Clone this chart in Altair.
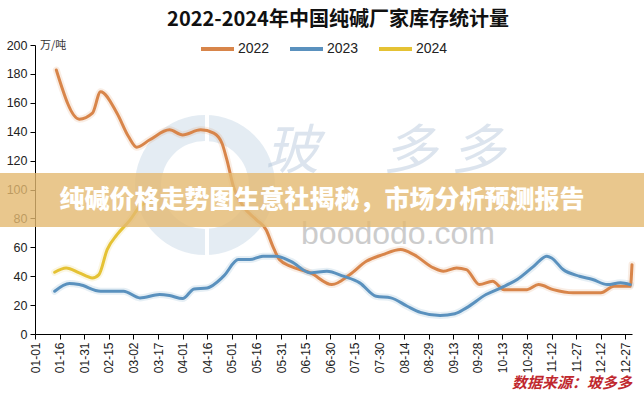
import altair as alt
import pandas as pd

TITLE = "2022-2024年中国纯碱厂家库存统计量"
UNIT = "万/吨"
BANNER = "纯碱价格走势图生意社揭秘，市场分析预测报告"
SOURCE = "数据来源：玻多多"
WATERMARK = "boododo.com"
WATERMARK_CHARS = ["玻", "多", "多"]

SERIES = ["2022", "2023", "2024"]
COLORS = ["#D8854A", "#5A91BE", "#E5C234"]

DATES_2022 = ["01-14", "01-28", "02-05", "02-10", "02-20", "02-27", "03-04", "03-12",
              "03-24", "04-01", "04-12", "04-20", "04-25", "04-28", "05-02", "05-08",
              "05-16", "05-22", "05-26", "05-30", "06-06", "06-18", "07-01", "07-12",
              "07-22", "08-01", "08-12", "08-20", "09-01", "09-07", "09-15", "09-21",
              "09-29", "10-07", "10-14", "10-28", "11-04", "11-13", "11-25", "12-12",
              "12-20", "12-30", "12-31"]
VALUES_2022 = [182.7, 148.7, 152.8, 167.7, 152.8, 136.7, 129.3, 134.4,
               141.3, 137.8, 141.3, 139.0, 132.0, 120.5, 102.0, 88.3,
               79.0, 72.0, 60.7, 51.5, 46.8, 42.3, 34.2, 41.1,
               50.3, 54.9, 58.4, 54.9, 45.7, 43.4, 45.7, 44.6,
               34.2, 36.5, 30.7, 30.7, 34.2, 30.7, 28.5, 28.5,
               33.0, 33.0, 48.0]

DATES_2023 = ["01-13", "01-22", "01-28", "02-10", "02-24", "03-06", "03-18", "03-24",
              "04-01", "04-08", "04-16", "04-26", "05-05", "05-12", "05-20", "05-28",
              "06-06", "06-18", "06-28", "07-08", "07-18", "07-28", "08-06", "08-16",
              "08-24", "09-05", "09-14", "09-21", "10-03", "10-12", "10-22", "11-01",
              "11-09", "11-12", "11-19", "11-29", "12-07", "12-16", "12-24", "12-30"]
VALUES_2023 = [29.6, 34.9, 34.2, 29.6, 29.6, 25.0, 27.3, 26.6,
               24.5, 31.2, 31.9, 40.0, 51.5, 51.5, 53.8, 53.8,
               50.3, 42.3, 43.4, 40.0, 35.4, 26.1, 25.0, 19.2,
               15.0, 12.8, 14.0, 18.1, 27.3, 31.9, 37.7, 46.8,
               53.8, 52.6, 44.6, 40.0, 37.7, 34.2, 35.4, 34.2]

DATES_2024 = ["01-13", "01-20", "01-28", "02-05", "02-09", "02-14", "02-20", "02-28",
              "03-06", "03-12"]
VALUES_2024 = [42.7, 45.7, 42.3, 38.8, 41.1, 58.4, 68.7, 79.0, 88.3, 92.0]

TICK_LABELS = ["01-01", "01-16", "01-31", "02-15", "03-02", "03-17", "04-01", "04-16",
               "05-01", "05-16", "05-31", "06-15", "06-30", "07-15", "07-30", "08-14",
               "08-29", "09-13", "09-28", "10-13", "10-28", "11-12", "11-27", "12-12",
               "12-27"]
Y_TICKS = [0, 20, 40, 60, 80, 100, 120, 140, 160, 180, 200]

W, H = 597, 289


def dt(md):
    return alt.DateTime(year=2022, month=int(md[:2]), date=int(md[3:]), utc=True)


rows = []
for name, ds, vs in [("2022", DATES_2022, VALUES_2022),
                     ("2023", DATES_2023, VALUES_2023),
                     ("2024", DATES_2024, VALUES_2024)]:
    for d, v in zip(ds, vs):
        rows.append({"series": name, "date": "2022-" + d, "value": v})
df = pd.DataFrame(rows)

x_enc = alt.X(
    "date:T",
    title=None,
    scale=alt.Scale(type="utc", domain=[dt("01-01"), dt("12-31")]),
    axis=alt.Axis(values=[dt(t) for t in TICK_LABELS],
                  labelExpr="utcFormat(datum.value, '%m-%d')",
                  labelAngle=270, labelFontSize=12, labelPadding=3, tickSize=5,
                  labelOverlap=False),
)
y_enc = alt.Y(
    "value:Q",
    title=None,
    scale=alt.Scale(domain=[0, 200], nice=False),
    axis=alt.Axis(values=Y_TICKS, labelFontSize=12.5, labelPadding=3, tickSize=5),
)
color_enc = alt.Color("series:N", scale=alt.Scale(domain=SERIES, range=COLORS), legend=None)

glow = alt.Chart(df).mark_line(interpolate="monotone", strokeWidth=7, opacity=0.15,
                               strokeCap="round", strokeJoin="round").encode(
    x=x_enc, y=y_enc, color=color_enc, detail="series:N")
lines = alt.Chart(df).mark_line(interpolate="monotone", strokeWidth=3,
                                strokeCap="round", strokeJoin="round").encode(
    x=x_enc, y=y_enc, color=color_enc, detail="series:N")

one = pd.DataFrame({"t": [0]})

# watermark logo (faint)
logo = alt.Chart(one).mark_arc(theta=0, theta2=6.2832, radius=70, radius2=44,
                               color="#9FB9D4", opacity=0.28).encode(
    x=alt.value(170), y=alt.value(140))
logo_gap = alt.Chart(one).mark_rule(color="white", strokeWidth=4).encode(
    x=alt.value(172), y=alt.value(70), y2=alt.value(210))
wm_layers = []
wm_x = [257, 375, 443]
for i, ch in enumerate(WATERMARK_CHARS):
    wm_layers.append(alt.Chart(pd.DataFrame({"c": [ch]})).mark_text(
        font="Noto Sans CJK SC", fontSize=54, color="#9DB5CF", opacity=0.35,
        fontStyle="italic").encode(text="c:N", x=alt.value(wm_x[i]), y=alt.value(108)))
wm_text = alt.Chart(pd.DataFrame({"t": [WATERMARK]})).mark_text(
    font="Liberation Sans", fontSize=32, color="#C4C4C4", opacity=0.85).encode(
    text="t:N", x=alt.value(363), y=alt.value(189))

# banner overlay
banner = alt.Chart(one).mark_rect(color="#E3B970", opacity=0.8).encode(
    x=alt.value(-35), x2=alt.value(609), y=alt.value(128), y2=alt.value(182))
banner_text = alt.Chart(pd.DataFrame({"t": [BANNER]})).mark_text(
    font="Noto Sans CJK SC", fontSize=25, fontWeight=900, color="white").encode(
    text="t:N", x=alt.value(287), y=alt.value(155))

title = alt.Chart(pd.DataFrame({"t": [TITLE]})).mark_text(
    font="Noto Sans CJK SC", fontSize=20, fontWeight="bold", color="#111111").encode(
    text="t:N", x=alt.value(303), y=alt.value(-25))
unit = alt.Chart(pd.DataFrame({"t": [UNIT]})).mark_text(
    font="Noto Sans CJK SC", fontSize=11, color="#333333", align="left").encode(
    text="t:N", x=alt.value(5), y=alt.value(1))
source = alt.Chart(pd.DataFrame({"t": [SOURCE]})).mark_text(
    font="Noto Sans CJK SC", fontSize=15, fontWeight="bold", fontStyle="italic",
    color="#C0282E", align="right").encode(
    text="t:N", x=alt.value(597), y=alt.value(338))

legend_layers = []
for i, (name, col) in enumerate(zip(SERIES, COLORS)):
    x0 = 166 + i * 89
    legend_layers.append(alt.Chart(one).mark_rule(color=col, strokeWidth=4).encode(
        x=alt.value(x0), x2=alt.value(x0 + 33), y=alt.value(4)))
    legend_layers.append(alt.Chart(pd.DataFrame({"t": [name]})).mark_text(
        font="Liberation Sans", fontSize=14, color="#222222", align="left").encode(
        text="t:N", x=alt.value(x0 + 37), y=alt.value(4)))

chart = alt.layer(
    logo, logo_gap, *wm_layers, wm_text, glow, lines, banner, banner_text,
    title, unit, source, *legend_layers
).properties(
    width=W, height=H,
    autosize=alt.AutoSizeParams(type="none"),
    padding={"left": 35, "top": 45, "right": 12, "bottom": 66},
    background="white",
).configure_axis(
    grid=False, domainColor="#000000", tickColor="#000000", labelColor="#222222",
    labelFont="Liberation Sans", domainWidth=1, tickWidth=1,
).configure_view(stroke=None)

chart.save("out.html", embed_options={"renderer": "svg", "actions": False})
